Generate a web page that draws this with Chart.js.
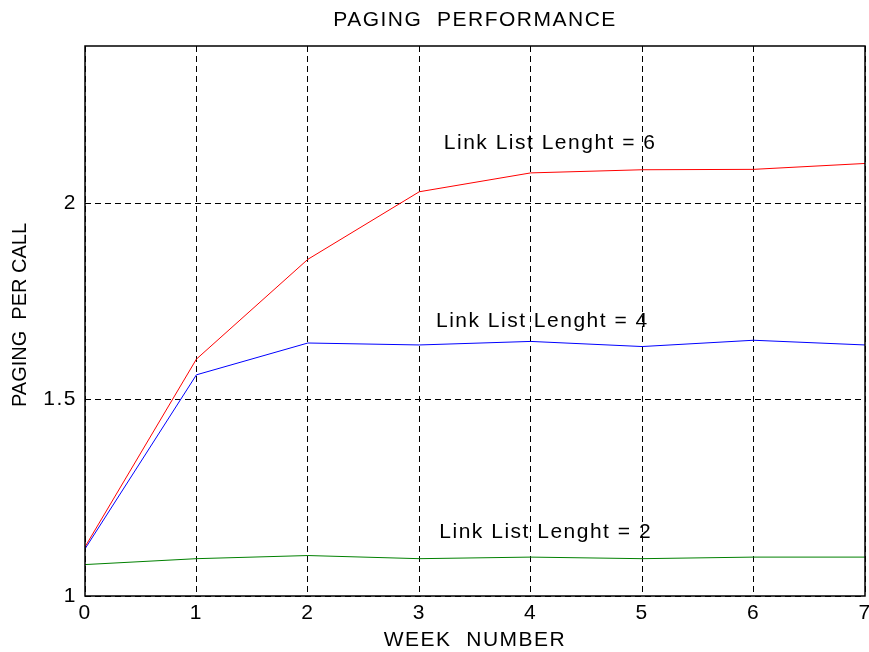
<!DOCTYPE html>
<html>
<head>
<meta charset="utf-8">
<script src="https://cdn.jsdelivr.net/npm/chart.js@4.4.1/dist/chart.umd.min.js"></script>
<style>
html,body{margin:0;padding:0;background:#fff;}
canvas{display:block;}
</style>
</head>
<body>
<canvas id="c" width="869" height="652"></canvas>
<script>
const weeks = [0, 1, 2, 3, 4, 5, 6, 7];
const len6 = [1.125, 1.603, 1.857, 2.029, 2.077, 2.085, 2.086, 2.101];
const len4 = [1.120, 1.563, 1.644, 1.639, 1.648, 1.635, 1.651, 1.639];
const len2 = [1.080, 1.095, 1.103, 1.095, 1.099, 1.095, 1.099, 1.099];
const yTicks = [1, 1.5, 2];
const xTicks = [0, 1, 2, 3, 4, 5, 6, 7];
const noteTexts = ['Link List Lenght = 6', 'Link List Lenght = 4', 'Link List Lenght = 2'];
const noteX = [3.22, 3.15, 3.18];
const noteY = [2.152, 1.700, 1.162];
const yTitle = 'PAGING  PER CALL';

const FONT = "'Liberation Sans', Arial, Helvetica, sans-serif";
const SPACING = '1.5px';

function pts(vals){ return weeks.map((w,i)=>({x:w, y:vals[i]})); }

const spacingPlugin = {
  id: 'spacing',
  beforeUpdate(chart){ chart.ctx.letterSpacing = SPACING; },
  beforeLayout(chart){ chart.ctx.letterSpacing = SPACING; },
  beforeDraw(chart){ chart.ctx.letterSpacing = SPACING; }
};

const framePlugin = {
  id: 'frame',
  afterDraw(chart){
    const {ctx, chartArea:a, scales} = chart;
    ctx.save();
    ctx.letterSpacing = SPACING;
    ctx.fillStyle = '#000';
    ctx.font = '21px ' + FONT;
    ctx.textAlign = 'left';
    ctx.textBaseline = 'middle';
    noteTexts.forEach((t,i)=>{
      ctx.fillText(t, scales.x.getPixelForValue(noteX[i]), scales.y.getPixelForValue(noteY[i]));
    });
    ctx.strokeStyle = '#000';
    ctx.lineWidth = 1.5;
    ctx.setLineDash([]);
    ctx.strokeRect(a.left, a.top, a.right - a.left, a.bottom - a.top);
    ctx.restore();
    // y axis title
    ctx.save();
    ctx.letterSpacing = '0px';
    ctx.fillStyle = '#000';
    ctx.font = '20px ' + FONT;
    ctx.textAlign = 'center';
    ctx.textBaseline = 'middle';
    ctx.translate(20, (a.top + a.bottom) / 2 - 6);
    ctx.rotate(-Math.PI / 2);
    ctx.fillText(yTitle, 0, 0);
    ctx.restore();
  }
};

new Chart(document.getElementById('c'), {
  type: 'line',
  data: {
    datasets: [
      {label:'Link List Lenght = 6', data: pts(len6), borderColor:'#ff0000', borderWidth:1, pointRadius:0, tension:0, fill:false},
      {label:'Link List Lenght = 4', data: pts(len4), borderColor:'#0000ff', borderWidth:1, pointRadius:0, tension:0, fill:false},
      {label:'Link List Lenght = 2', data: pts(len2), borderColor:'#008000', borderWidth:1, pointRadius:0, tension:0, fill:false}
    ]
  },
  options: {
    responsive: false,
    animation: false,
    events: [],
    layout: {padding: {top:0, right:4, left:0, bottom:0}},
    plugins: {
      legend: {display:false},
      tooltip: {enabled:false},
      title: {
        display: true,
        text: 'PAGING  PERFORMANCE',
        fullSize: false,
        color: '#000',
        font: {family: FONT, size: 21, weight: 'normal', lineHeight: 1.2},
        padding: {top: 8, bottom: 12.8}
      }
    },
    scales: {
      x: {
        type: 'linear',
        min: 0, max: 7,
        afterBuildTicks(s){ s.ticks = xTicks.map(v=>({value:v})); },
        afterFit(s){ s.height = 56; s.paddingLeft = 0; s.paddingRight = 0; },
        ticks: {color:'#000', font:{family:FONT, size:21, lineHeight:1.2}, padding:5, maxRotation:0, callback:v=>String(v)},
        grid: {color:'#000', lineWidth:1, drawTicks:false},
        border: {display:false, dash:[6,4]},
        title: {display:true, text:'WEEK  NUMBER', color:'#000', font:{family:FONT, size:21, lineHeight:1.1}, padding:{top:0, bottom:0}}
      },
      y: {
        type: 'linear',
        min: 1, max: 2.4,
        afterBuildTicks(s){ s.ticks = yTicks.map(v=>({value:v})); },
        afterFit(s){ s.width = 85; s.paddingTop = 0; s.paddingBottom = 0; },
        ticks: {color:'#000', font:{family:FONT, size:21, lineHeight:1.2}, padding:8, callback:v=>String(v)},
        grid: {color:'#000', lineWidth:1, drawTicks:false},
        border: {display:false, dash:[6,4]},
        title: {display:false}
      }
    }
  },
  plugins: [spacingPlugin, framePlugin]
});
</script>
</body>
</html>
